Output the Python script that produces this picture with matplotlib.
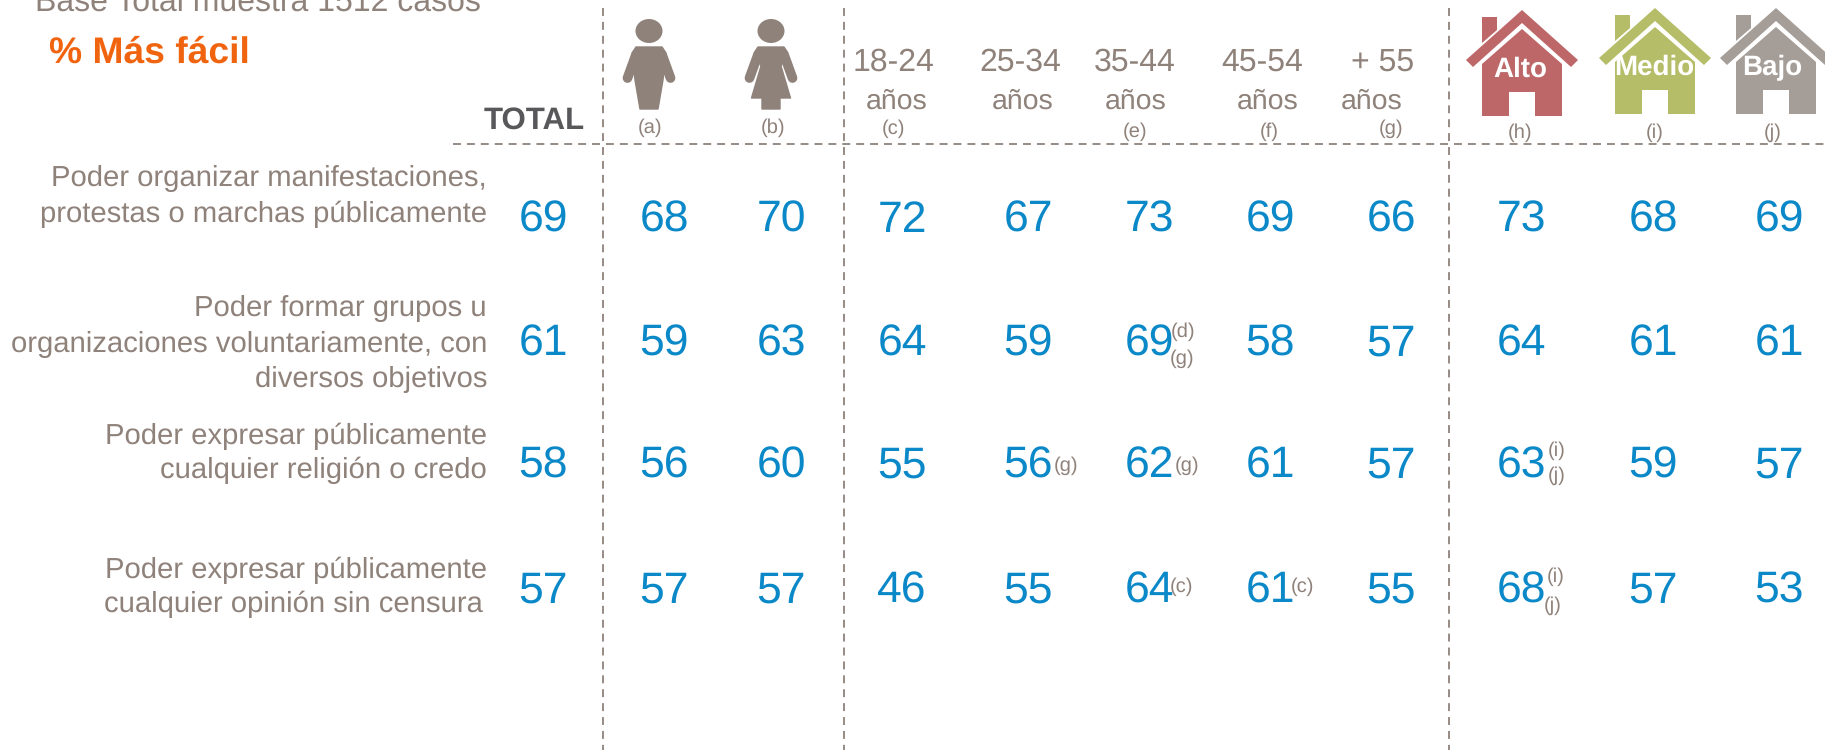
import matplotlib
matplotlib.use('Agg')
import matplotlib.pyplot as plt
from matplotlib.patches import Polygon, Ellipse

plt.rcParams['font.family'] = ['Liberation Sans', 'DejaVu Sans']
plt.rcParams['text.hinting'] = 'no_hinting'

GREY = '#8f827b'
BLUE = '#0a88c8'

total = [69, 61, 58, 57]
hombre = [68, 59, 56, 57]
mujer = [70, 63, 60, 57]
edad_18 = [72, 64, 55, 46]
edad_25 = [67, 59, 56, 55]
edad_35 = [73, 69, 62, 64]
edad_45 = [69, 58, 61, 61]
edad_55 = [66, 57, 57, 55]
alto = [73, 64, 63, 68]
medio = [68, 61, 59, 57]
bajo = [69, 61, 57, 53]
columns = [total, hombre, mujer, edad_18, edad_25, edad_35, edad_45, edad_55, alto, medio, bajo]

row_labels = [['Poder organizar manifestaciones,', 'protestas o marchas públicamente'],
              ['Poder formar grupos u', 'organizaciones voluntariamente, con', 'diversos objetivos'],
              ['Poder expresar públicamente', 'cualquier religión o credo'],
              ['Poder expresar públicamente', 'cualquier opinión sin censura']]
age_top = ['18-24', '25-34', '35-44', '45-54', '+ 55']
age_bottom = ['años', 'años', 'años', 'años', 'años']
col_letters = ['(a)', '(b)', '(c)', '(e)', '(f)', '(g)', '(h)', '(i)', '(j)']
house_labels = ['Alto', 'Medio', 'Bajo']
house_colors = ['#be6769', '#b5bd68', '#a59d98']

# everything is placed in image pixels, y going down
col_x = [543, 664, 781, 902, 1028, 1149, 1270, 1391, 1521, 1653, 1779]
row_y = [232, 356, 478, 603]

fig = plt.figure(figsize=(18.25, 7.5), dpi=100)
ax = fig.add_axes([0, 0, 1, 1])
ax.set_xlim(0, 1825)
ax.set_ylim(750, 0)
ax.axis('off')

# dashed grid
dash = dict(color=GREY, lw=1.3, linestyle=(0, (4.4, 3.3)))
ax.plot([453, 1825], [144, 144], **dash)
for x in [603, 844, 1449]:
    ax.plot([x, x], [8, 750], **dash)

# titles
ax.text(35, 11, 'Base Total muestra 1512 casos', fontsize=23, color=GREY, va='baseline')
ax.text(49, 63, '% Más fácil', fontsize=26.8, color='#f0640f', weight='bold', va='baseline')
ax.text(585, 129, 'TOTAL', fontsize=22.5, color='#58585a', weight='bold', ha='right', va='baseline')

# row labels, one text per line
label_y = [[186, 222], [316, 352, 387], [444, 478], [578, 612]]
label_right = [[487, 487], [487, 487, 487], [487, 487], [487, 483]]
for lines, ys, rights in zip(row_labels, label_y, label_right):
    for line, y, r in zip(lines, ys, rights):
        ax.text(r, y, line, fontsize=21.1, color=GREY, ha='right', va='baseline')

# numbers
for x, values in zip(col_x, columns):
    for y, v in zip(row_y, values):
        ax.text(x, y, str(v), fontsize=32, color=BLUE, ha='center', va='baseline')

# significance letters next to the numbers
notes = [('(d)', 1183, 332), ('(g)', 1182, 359), ('(g)', 1066, 466), ('(g)', 1187, 466),
         ('(i)', 1557, 451), ('(j)', 1557, 476), ('(c)', 1181, 587), ('(c)', 1302, 587),
         ('(i)', 1556, 577), ('(j)', 1553, 606)]
for txt, x, y in notes:
    ax.text(x, y, txt, fontsize=14.5, color=GREY, ha='center', va='center')

# age headers
for txt, x in zip(age_top, [893, 1020, 1135, 1262, 1383]):
    ax.text(x, 71, txt, fontsize=23, color=GREY, ha='center', va='baseline')
for txt, x in zip(age_bottom, [897, 1023, 1136, 1268, 1372]):
    ax.text(x, 109, txt, fontsize=20.5, color=GREY, ha='center', va='baseline')
letter_x = [650, 773, 893, 1135, 1269, 1391, 1520, 1655, 1773]
letter_y = [128, 128, 129, 132, 132, 129, 133, 133, 133]
for txt, x, y in zip(col_letters, letter_x, letter_y):
    ax.text(x, y, txt, fontsize=14.5, color=GREY, ha='center', va='center')


def draw_person(cx, body):
    ax.add_patch(Ellipse((cx, 31), 27, 24, color=GREY, lw=0))
    pts = [(cx + a, b) for a, b in body]
    ax.add_patch(Polygon(pts, closed=True, fc=GREY, ec=GREY, lw=1, joinstyle='round'))
    for s in [-1, 1]:
        ax.plot([cx + s * 13.5, cx + s * 21.5], [56, 78], color=GREY, lw=7,
                solid_capstyle='round')


draw_person(649, [(-13, 47), (13, 47), (17, 53), (14, 80), (9, 109),
                  (-9, 109), (-14, 80), (-17, 53)])
draw_person(771, [(-13, 47), (13, 47), (17, 53), (10, 66), (19.5, 98), (9, 98), (9, 109),
                  (-9, 109), (-9, 98), (-19.5, 98), (-10, 66), (-17, 53)])


def draw_house(cx, top, color, label, label_x):
    # chimney
    ax.add_patch(Polygon([(cx - 40, top + 7), (cx - 25, top + 7), (cx - 25, top + 20),
                          (cx - 40, top + 33)], fc=color, lw=0))
    # roof
    ax.add_patch(Polygon([(cx, top), (cx + 56, top + 50), (cx + 49, top + 57), (cx, top + 13),
                          (cx - 49, top + 57), (cx - 56, top + 50)], fc=color, lw=0))
    # walls with the door cut out
    ax.add_patch(Polygon([(cx, top + 19), (cx + 40, top + 54), (cx + 40, top + 106),
                          (cx + 13, top + 106), (cx + 13, top + 82), (cx - 13, top + 82),
                          (cx - 13, top + 106), (cx - 40, top + 106), (cx - 40, top + 54)],
                         fc=color, lw=0))
    ax.text(label_x, top + 67, label, fontsize=20, color='white', weight='bold',
            ha='center', va='baseline')


for label, color, cx, top, lx in zip(house_labels, house_colors, [1522, 1655, 1776],
                                     [10, 8, 8], [1520, 1654, 1772]):
    draw_house(cx, top, color, label, lx)

fig.savefig('out.png', dpi=100)
